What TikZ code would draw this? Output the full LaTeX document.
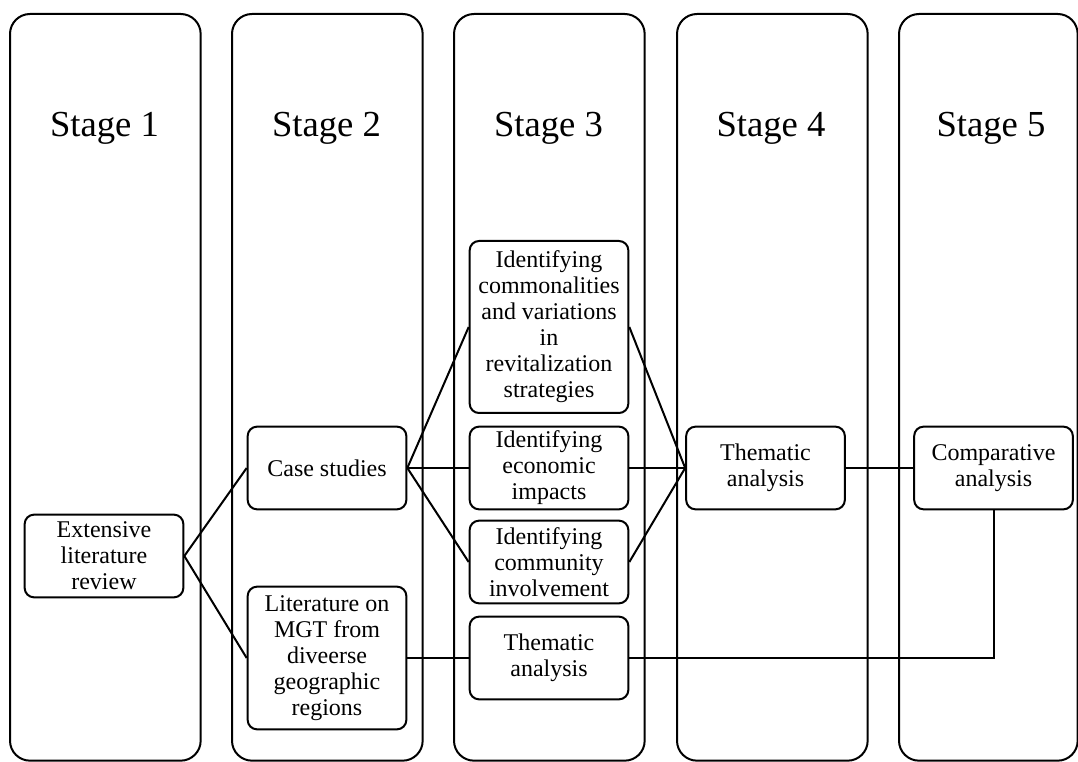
\documentclass[tikz,border=0pt]{standalone}
\usepackage{fontspec}
\setmainfont{Liberation Serif}
\usetikzlibrary{positioning}

\begin{document}
\begin{tikzpicture}[x = 0.75pt, y = -0.75pt, % one pixel of the figure
                line width = 1.5pt % line style
            ]

            \tikzstyle{column}=[draw = black, rounded corners = 15pt,
            minimum width = 143pt, minimum height = 560pt, anchor = north west]
            \tikzstyle{stagename}=[font = \fontsize{27.5pt}{30pt}\selectfont]
            \tikzstyle{box}=[draw = black, fill = white, rounded corners = 7pt,
            align = center, minimum width = 119pt, minimum height = 62pt,
            inner sep = 2pt, font = \fontsize{18pt}{19.5pt}\selectfont]

            \useasboundingbox (0,0) rectangle (1078,762);
            \clip (0,0) rectangle (1078,762);

            \node[column] (c1) at (9,13) {}; \node[column] (c2) at (231,13) {};
            \node[column] (c3) at (453,13) {}; \node[column] (c4) at (676,13) {};
            \node[column, minimum width = 134pt] (c5) at (898,13) {};

            \node[stagename] (s1) at (104.5,128) {Stage 1};
            \node[stagename] (s2) at (326.5,128) {Stage 2};
            \node[stagename] (s3) at (548.5,128) {Stage 3};
            \node[stagename] (s4) at (771,128) {Stage 4};
            \node[stagename] (s5) at (991,128) {Stage 5};

            \node[box] (review) at (104,556) {Extensive\\literature\\review};
            \node[box] (cases) at (327,468) {Case studies};
            \node[box, minimum height = 107pt] (lit) at (327,658)
            {Literature on\\MGT from\\diveerse\\geographic\\regions};
            \node[box, minimum height = 129pt] (common) at (549,327)
            {Identifying\\commonalities\\and variations\\in\\revitalization\\strategies};
            \node[box] (econ) at (549,468) {Identifying\\economic\\impacts};
            \node[box] (commun) at (549,562) {Identifying\\community\\involvement};
            \node[box] (them3) at (549,658) {Thematic\\analysis};
            \node[box] (them4) at (765.5,468) {Thematic\\analysis};
            \node[box] (comp) at (993.5,468) {Comparative\\analysis};

            \draw (review.east) -- (cases.west); \draw (review.east) -- (lit.west);
            \draw (cases.east) -- (common.west); \draw (cases.east) -- (econ.west);
            \draw (cases.east) -- (commun.west);
            \draw (common.east) -- (them4.west); \draw (econ.east) -- (them4.west);
            \draw (commun.east) -- (them4.west);
            \draw (them4.east) -- (comp.west); \draw (lit.east) -- (them3.west);
            \draw (them3.east) -- (them3.east -| comp.south) -- (comp.south);
        \end{tikzpicture}
\end{document}
